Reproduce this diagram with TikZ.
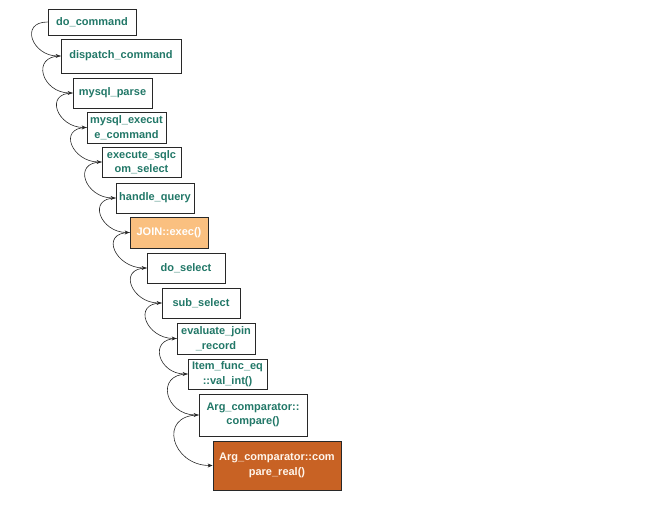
\documentclass[tikz,border=0pt]{standalone}
\usepackage{fontspec}
\setmainfont{Liberation Sans}
\usepackage{tikz}
\usetikzlibrary{arrows.meta}
\definecolor{fnteal}{RGB}{34,120,104}
\definecolor{hotlight}{RGB}{250,192,128}
\definecolor{hotdark}{RGB}{200,98,36}
\definecolor{edge}{RGB}{40,40,40}
\tikzset{
  callbox/.style={draw=edge,line width=0.8pt,fill=white,inner sep=0pt,align=center,
    text=fnteal,font=\fontsize{11}{14.5}\selectfont\bfseries},
  calls/.style={edge,line width=0.6pt,-{Stealth[length=5pt,width=4pt]},out=180,in=180,looseness=2}
}

\begin{document}
\begin{tikzpicture}[x=1pt,y=-1pt]
  \useasboundingbox (0,0) rectangle (653,505);
  \node[callbox,minimum width=88pt,minimum height=26pt] (docmd) at (92,22) {do\_command};
  \node[callbox,minimum width=120pt,minimum height=34pt] (dispatch) at (121,56) {dispatch\_command};
  \node[callbox,minimum width=79pt,minimum height=30pt] (parse) at (112.5,93) {mysql\_parse};
  \node[callbox,minimum width=79pt,minimum height=31pt] (execcmd) at (126.5,127.5) {mysql\_execut\\e\_command};
  \node[callbox,minimum width=79pt,minimum height=30pt] (sqlcom) at (141.5,162) {execute\_sqlc\\om\_select};
  \node[callbox,minimum width=78pt,minimum height=30pt] (handle) at (155,198) {handle\_query};
  \node[callbox,minimum width=78pt,minimum height=31pt,fill=hotlight,text=white] (joinexec) at (169,232.5) {JOIN::exec()};
  \node[callbox,minimum width=78pt,minimum height=30pt] (doselect) at (186,268) {do\_select};
  \node[callbox,minimum width=78pt,minimum height=30pt] (subselect) at (201,303) {sub\_select};
  \node[callbox,minimum width=78pt,minimum height=31pt] (evaljoin) at (216,338.5) {evaluate\_join\\\_record};
  \node[callbox,minimum width=79pt,minimum height=30pt] (itemeq) at (227.5,374) {Item\_func\_eq\\::val\_int()};
  \node[callbox,minimum width=108pt,minimum height=42pt] (cmp) at (253,415) {Arg\_comparator::\\compare()};
  \node[callbox,minimum width=128pt,minimum height=49pt,fill=hotdark,text=white!92!orange] (cmpreal) at (277,465.5) {Arg\_comparator::com\\pare\_real()};
  % call chain
  \draw[calls] (docmd.west) to (dispatch.west);
  \draw[calls] (dispatch.west) to (parse.west);
  \draw[calls] (parse.west) to (execcmd.west);
  \draw[calls] (execcmd.west) to (sqlcom.west);
  \draw[calls] (sqlcom.west) to (handle.west);
  \draw[calls] (handle.west) to (joinexec.west);
  \draw[calls] (joinexec.west) to (doselect.west);
  \draw[calls] (doselect.west) to (subselect.west);
  \draw[calls] (subselect.west) to (evaljoin.west);
  \draw[calls] (evaljoin.west) to (itemeq.west);
  \draw[calls] (itemeq.west) to (cmp.west);
  \draw[calls] (cmp.west) to (cmpreal.west);
\end{tikzpicture}
\end{document}
